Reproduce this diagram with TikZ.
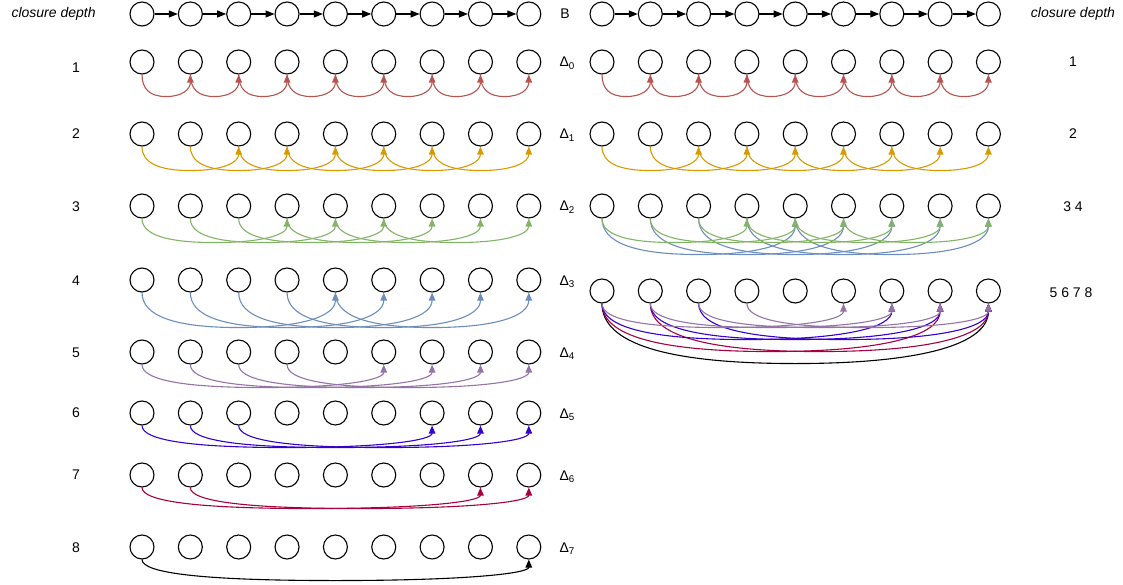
\documentclass[tikz,border=0pt]{standalone}
\usepackage{fontspec}
\setmainfont{Liberation Sans}
\usetikzlibrary{calc,arrows.meta}
\definecolor{cRed}{HTML}{B85450}
\definecolor{cOrange}{HTML}{D79B00}
\definecolor{cGreen}{HTML}{82B366}
\definecolor{cBlue}{HTML}{6C8EBF}
\definecolor{cPurple}{HTML}{9673A6}
\definecolor{cViolet}{HTML}{3700CC}
\definecolor{cCrimson}{HTML}{A50040}
\tikzset{vtx/.style={circle,draw,line width=1.1pt,minimum size=24pt,inner sep=0pt},
  lbl/.style={font=\fontsize{14}{17}\selectfont},
  hop/.style={line width=1.1pt,-{Triangle[length=8pt,width=6.5pt]}},
  chain/.style={line width=1.1pt,-{Triangle[length=9pt,width=7pt]}}}
% curved link: source, target, depth below the circles, colour
\newcommand\clink[4]{%
  \path (#1.south) coordinate (s) ++(0,#3) coordinate (c1) (#2.south) coordinate (t) ++(0,#3) coordinate (c2);
  \coordinate (m) at ($(c1)!.5!(c2)$);
  \draw[#4,hop] (s) .. controls ($(s)!2/3!(c1)$) and ($(m)!2/3!(c1)$) .. (m) .. controls ($(m)!2/3!(c2)$) and ($(t)!2/3!(c2)$) .. (t);}

\begin{document}
\begin{tikzpicture}[x=1pt,y=-1pt]
\useasboundingbox (0,0) rectangle (1123,585);
% base rows
\foreach \n in {0,...,8} {\node[vtx] (LBc\n) at ({142+48.35*\n},14) {}; \node[vtx] (RBc\n) at ({602+48.3*\n},14) {};}
\foreach \n in {0,...,7} {\pgfmathtruncatemacro\tgt{\n+1} \draw[chain] (LBc\n) -- (LBc\tgt); \draw[chain] (RBc\n) -- (RBc\tgt);}
\node[lbl,anchor=base] (blab) at (565,19) {B};
% left: one row per Delta
\foreach \row/\y in {0/62,1/134,2/206,3/280,4/352,5/413,6/475,7/547} {
  \foreach \n in {0,...,8} \node[vtx] (L\row c\n) at ({142+48.35*\n},\y) {};
  \node[lbl,anchor=base west] (dl\row) at (556,\y+5) {Δ\textsubscript{\row}};}
\foreach \row/\col/\dep in {0/cRed/22,1/cOrange/24,2/cGreen/24,3/cBlue/35,4/cPurple/23,5/cViolet/22,6/cCrimson/21,7/black/21} {
  \pgfmathtruncatemacro\last{7-\row}
  \foreach \n in {0,...,\last} {\pgfmathtruncatemacro\tgt{\n+\row+1} \clink{L\row c\n}{L\row c\tgt}{\dep}{\col}}}
% right: closures merged
\foreach \row/\y in {0/62,1/134,2/206,3/291}
  \foreach \n in {0,...,8} \node[vtx] (R\row c\n) at ({602+48.3*\n},\y) {};
\foreach \row/\s/\col/\dep in {0/1/cRed/22,1/2/cOrange/24,2/4/cBlue/36,2/3/cGreen/24,3/8/black/60,3/7/cCrimson/48,3/6/cViolet/36,3/5/cPurple/24} {
  \pgfmathtruncatemacro\last{8-\s}
  \foreach \n in {0,...,\last} {\pgfmathtruncatemacro\tgt{\n+\s} \clink{R\row c\n}{R\row c\tgt}{\dep}{\col}}}
% depth labels
\node[lbl,anchor=base west] (cdl) at (8,18) {\itshape closure depth};
\node[lbl,anchor=base] (cdr) at (1073,18) {\itshape closure depth};
\foreach \n/\y in {1/68,2/134,3/207,4/280,5/352,6/412,7/474,8/547} \node[lbl,anchor=base] (dep\n) at (76,\y+5) {\n};
\node[lbl,anchor=base] (rd1) at (1073,67) {1};
\node[lbl,anchor=base] (rd2) at (1073,139) {2};
\node[lbl,anchor=base] (rd3) at (1073,212) {3 4};
\node[lbl,anchor=base] (rd4) at (1071,297) {5 6 7 8};
\end{tikzpicture}
\end{document}
